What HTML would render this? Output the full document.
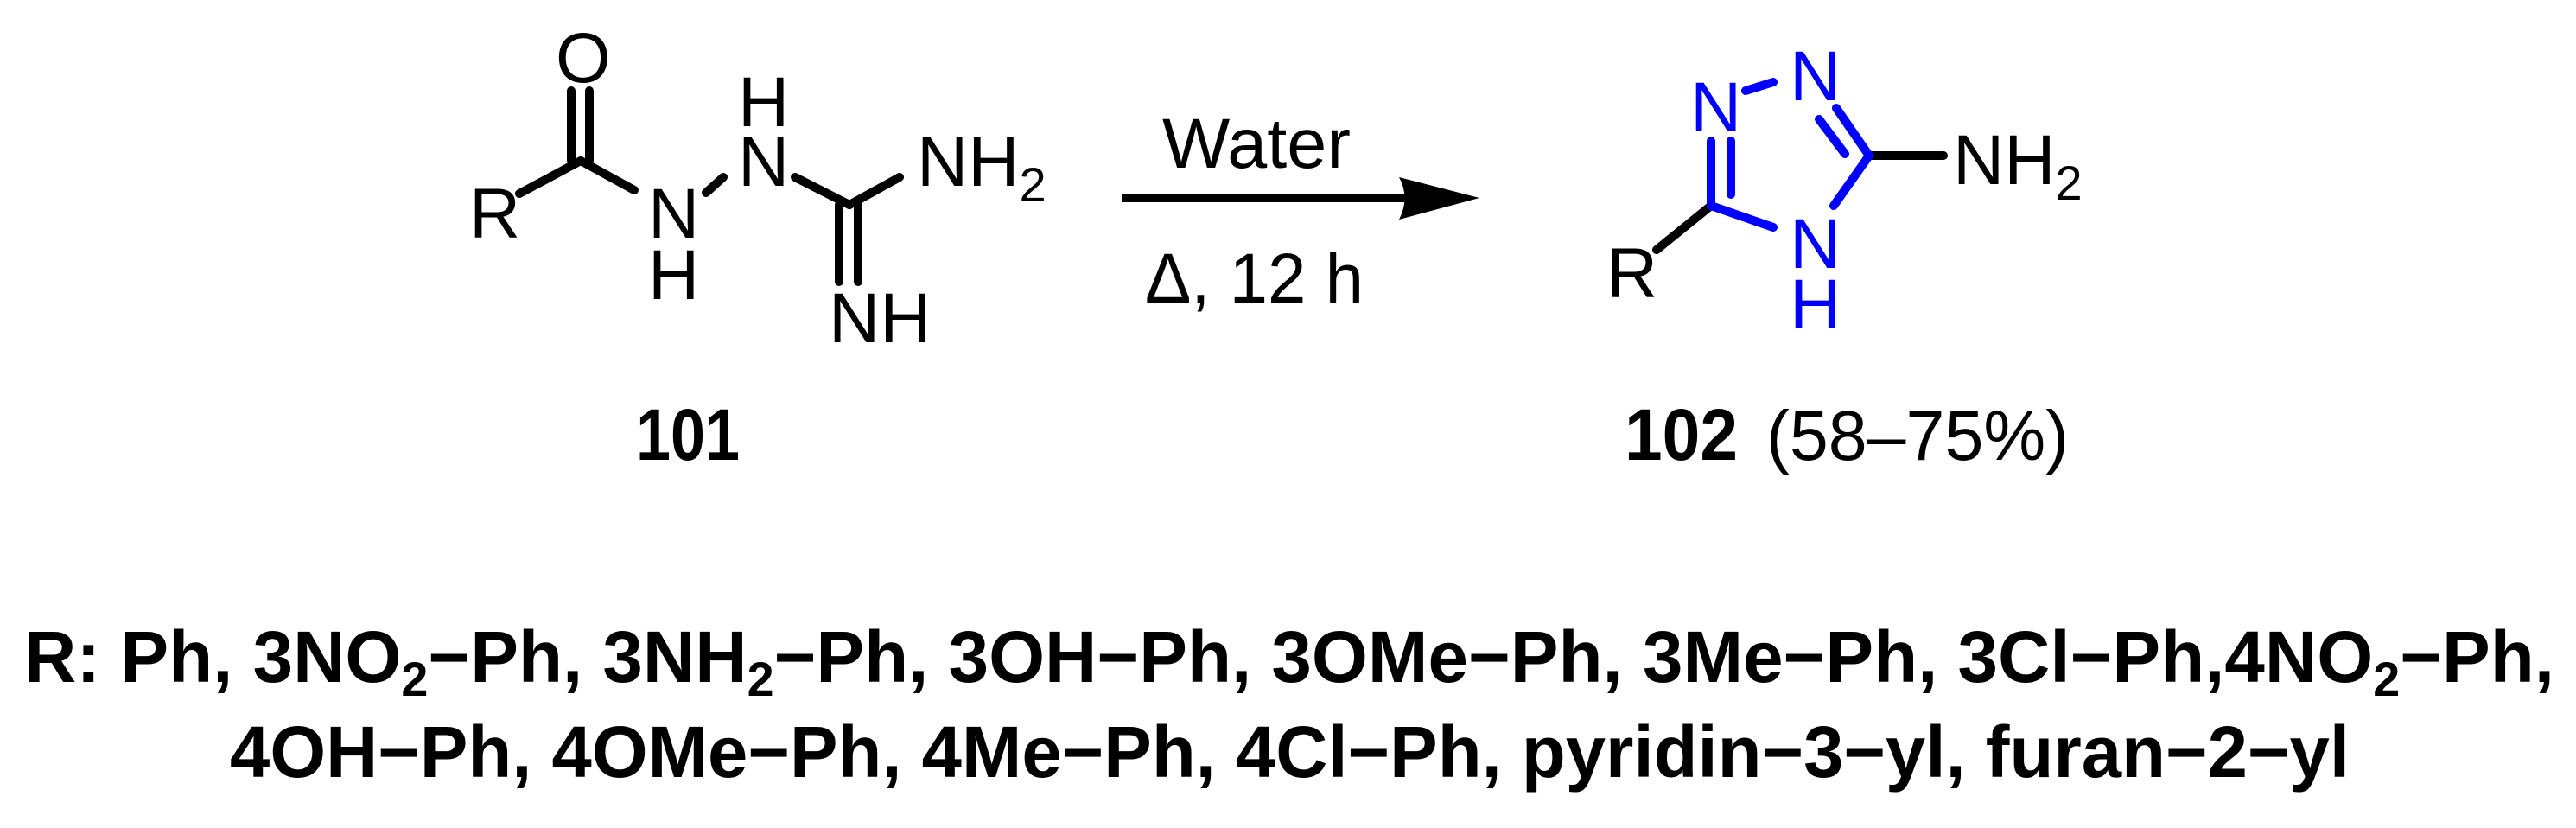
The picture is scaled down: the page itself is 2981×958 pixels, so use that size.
<!DOCTYPE html>
<html><head><meta charset="utf-8"><style>html,body{margin:0;padding:0;background:#fff}svg{display:block}</style></head>
<body>
<svg width="2981" height="958" viewBox="0 0 2981 958" xmlns="http://www.w3.org/2000/svg" font-family="Liberation Sans, Arial, sans-serif">
<g stroke="#000" stroke-width="10" stroke-linecap="round" fill="none">
<line x1="661" y1="105" x2="661" y2="186"/>
<line x1="682" y1="105" x2="682" y2="186"/>
<line x1="601" y1="224" x2="672" y2="186"/>
<line x1="672" y1="186" x2="734" y2="220"/>
<line x1="817" y1="223" x2="837" y2="205"/>
<line x1="920" y1="205" x2="983" y2="237"/>
<line x1="983" y1="237" x2="1041" y2="205"/>
<line x1="971" y1="237" x2="971" y2="326"/>
<line x1="993" y1="237" x2="993" y2="326"/>
<line x1="1980" y1="238" x2="1917" y2="289"/>
<line x1="2163" y1="180" x2="2249" y2="180"/>
</g>
<g stroke="#0000ff" stroke-width="10" stroke-linecap="round" fill="none">
<line x1="2020" y1="105" x2="2052" y2="95"/>
<line x1="2125" y1="125" x2="2163" y2="180"/>
<line x1="2105" y1="138" x2="2135" y2="178"/>
<line x1="2163" y1="180" x2="2122" y2="238"/>
<line x1="1980" y1="238" x2="2052" y2="263"/>
<line x1="1980" y1="163" x2="1980" y2="238"/>
<line x1="2003" y1="163" x2="2003" y2="225"/>
</g>
<line x1="1298" y1="229.5" x2="1640" y2="229.5" stroke="#000" stroke-width="9"/>
<path d="M1712 229 L1619 205 Q1632 229 1619 254 Z" fill="#000"/>
<g font-size="82" fill="#000">
<text x="643" y="95">O</text>
<text x="543" y="275">R</text>
<text x="750" y="275">N</text>
<text x="750" y="346">H</text>
<text x="854" y="215">N</text>
<text x="854" y="146">H</text>
<text x="1061" y="215">NH<tspan font-size="56" dy="18">2</tspan></text>
<text x="959" y="396">NH</text>
<text x="1345" y="194" textLength="218" lengthAdjust="spacingAndGlyphs">Water</text>
<text x="1325" y="350" textLength="253" lengthAdjust="spacingAndGlyphs">Δ, 12 h</text>
<text x="1859" y="344">R</text>
<text x="2260" y="213">NH<tspan font-size="56" dy="18">2</tspan></text>
<text x="2044" y="532" textLength="350" lengthAdjust="spacingAndGlyphs">(58–75%)</text>
</g>
<g font-size="82" fill="#0000ff">
<text x="1956" y="152">N</text>
<text x="2071" y="116">N</text>
<text x="2071" y="310">N</text>
<text x="2071" y="380">H</text>
</g>
<g font-size="84" font-weight="bold" fill="#000">
<text x="736" y="532" textLength="120" lengthAdjust="spacingAndGlyphs">101</text>
<text x="1880" y="532" textLength="131" lengthAdjust="spacingAndGlyphs">102</text>
<text x="28" y="789" textLength="2928" lengthAdjust="spacingAndGlyphs">R: Ph, 3NO<tspan font-size="56" dy="16">2</tspan><tspan dy="-16">−Ph, 3NH</tspan><tspan font-size="56" dy="16">2</tspan><tspan dy="-16">−Ph, 3OH−Ph, 3OMe−Ph, 3Me−Ph, 3Cl−Ph,4NO</tspan><tspan font-size="56" dy="16">2</tspan><tspan dy="-16">−Ph,</tspan></text>
<text x="266" y="899" textLength="2453" lengthAdjust="spacingAndGlyphs">4OH−Ph, 4OMe−Ph, 4Me−Ph, 4Cl−Ph, pyridin−3−yl, furan−2−yl</text>
</g>
</svg>
</body></html>
